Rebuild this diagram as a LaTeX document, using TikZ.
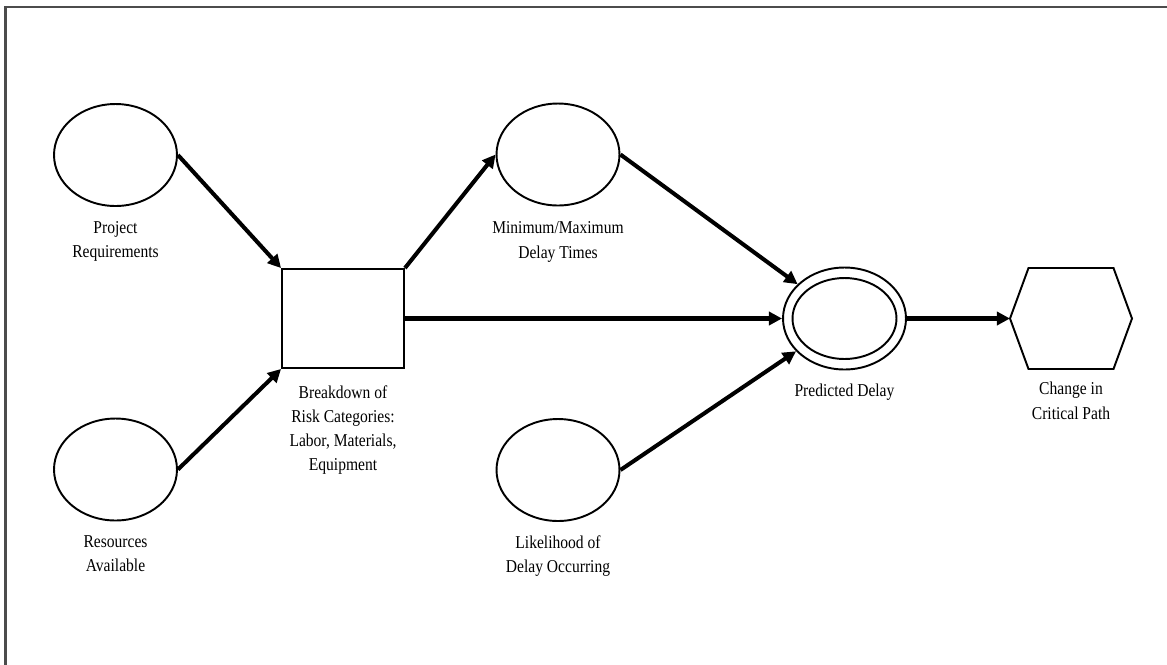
\documentclass[tikz,border=0pt]{standalone}
\usepackage{fontspec}
\setmainfont{Liberation Serif}[FakeStretch=0.86]
\usetikzlibrary{arrows.meta,positioning,shapes.geometric}

\begin{document}
\begin{tikzpicture}[
			x=0.02cm, y=-0.02cm,
			label node/.style={font=\fontsize{10.3}{13.8}\selectfont, align=center, inner sep=0pt},
			chance node/.style={draw, ellipse, line width=1.1pt, minimum width=2.46cm, minimum height=2.04cm, inner sep=0pt},
			decision node/.style={draw, rectangle, line width=1.1pt, minimum width=2.44cm, minimum height=1.98cm, inner sep=0pt},
			flow/.style={line width=2.3pt, -{Triangle[length=7.5pt, width=7.5pt]}}
			]
			\useasboundingbox (0,0) rectangle (1167,664);
			\draw[black!70, line width=1.2pt] (5.5,680) -- (5.5,7) -- (1180,7);
			
			\node[chance node] (pr) at (115.5,155) {};
			\node[chance node] (ra) at (115.5,469.5) {};
			\node[decision node] (rc) at (343,318.5) {};
			\node[chance node] (mm) at (558,154.5) {};
			\node[chance node] (lk) at (558,470) {};
			\node[chance node] (pd) at (844.5,318.5) {};
			\node[draw, ellipse, line width=1.1pt, minimum width=2.08cm, minimum height=1.62cm] (pd-in) at (pd) {};
			
			% hexagon of the value node
			\coordinate (cp-w) at (1010,318.5);
			\coordinate (cp-s) at (1071,369);
			\draw[line width=1.1pt, line join=miter] (cp-w) -- ++(18.5,-50.5) -- ++(85,0) -- ++(18.5,50.5)
				-- ++(-18.5,50.5) -- ++(-85,0) -- cycle;
			
			\node[label node, below=0.28cm of pr] (pr-lbl) {Project\\Requirements};
			\node[label node, below=0.28cm of ra] (ra-lbl) {Resources\\Available};
			\node[label node, below=0.32cm of rc] (rc-lbl) {Breakdown of\\Risk Categories:\\Labor, Materials,\\Equipment};
			\node[label node, below=0.3cm of mm] (mm-lbl) {Minimum/Maximum\\Delay Times};
			\node[label node, below=0.26cm of lk] (lk-lbl) {Likelihood of\\Delay Occurring};
			\node[label node, below=0.26cm of pd] (pd-lbl) {Predicted Delay};
			\node[label node, below=0.26cm of cp-s] (cp-lbl) {Change in\\Critical Path};
			
			\draw[flow] (pr.east) -- (rc.north west);
			\draw[flow] (ra.east) -- (rc.south west);
			\draw[flow] (rc.north east) -- (mm.west);
			\draw[flow] (rc.east) -- (pd.west);
			\draw[flow] (mm.east) -- (pd);
			\draw[flow] (lk.east) -- (pd);
			\draw[flow] (pd.east) -- (cp-w);
		\end{tikzpicture}
\end{document}
